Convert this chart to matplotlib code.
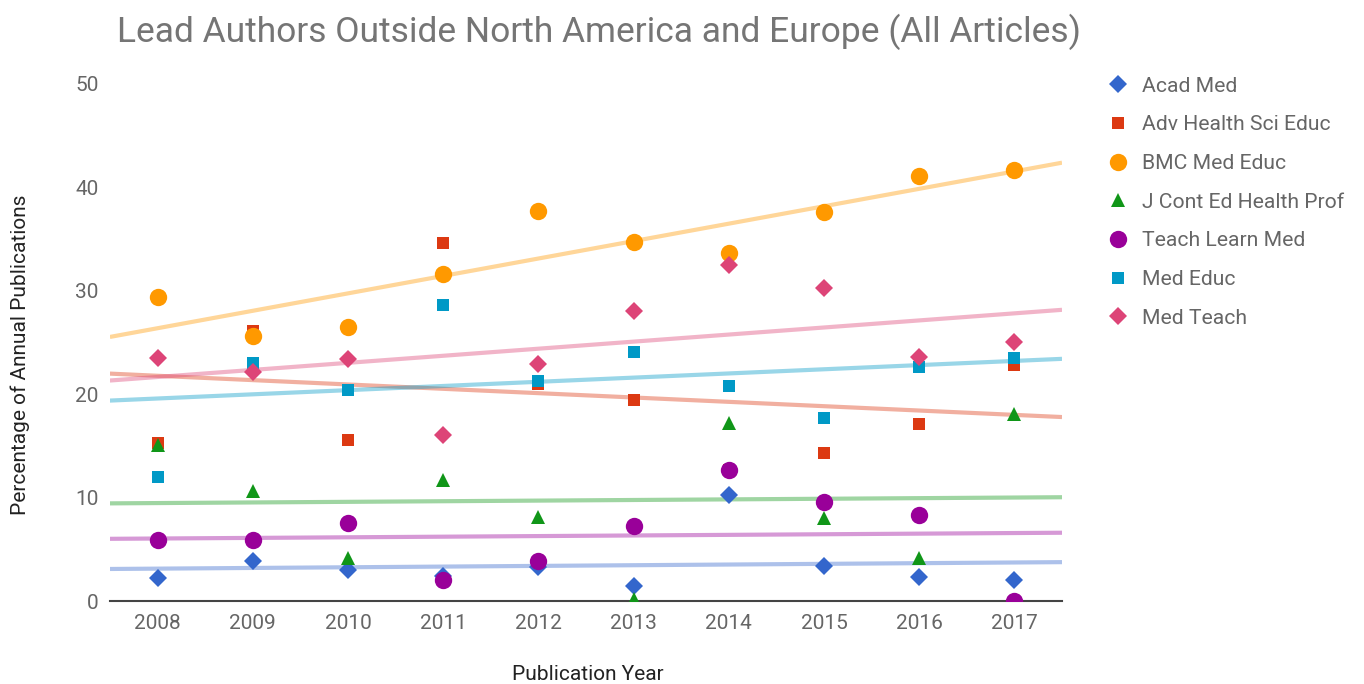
import matplotlib.pyplot as plt
import numpy as np

plt.rcParams['font.family'] = ['Roboto', 'DejaVu Sans']

years = [2008, 2009, 2010, 2011, 2012, 2013, 2014, 2015, 2016, 2017]

acad_med = [2.2, 3.9, 3.0, 2.4, 3.3, 1.5, 10.3, 3.4, 2.3, 2.0]
adv_health = [15.3, 26.1, 15.6, 34.6, 21.0, 19.4, 12.7, 14.3, 17.1, 22.8]
bmc_med = [29.4, 25.6, 26.5, 31.6, 37.7, 34.7, 33.7, 37.6, 41.1, 41.7]
j_cont = [15.1, 10.6, 4.2, 11.7, 8.1, 0.2, 17.2, 8.0, 4.2, 18.1]
teach_learn = [5.9, 5.9, 7.5, 2.0, 3.9, 7.3, 12.7, 9.6, 8.3, 0.0]
med_educ = [12.0, 23.0, 20.4, 28.6, 21.3, 24.1, 20.8, 17.7, 22.6, 23.5]
med_teach = [23.5, 22.1, 23.4, 16.1, 22.9, 28.0, 32.5, 30.3, 23.6, 25.0]

names = ['Acad Med', 'Adv Health Sci Educ', 'BMC Med Educ', 'J Cont Ed Health Prof',
         'Teach Learn Med', 'Med Educ', 'Med Teach']
series = [acad_med, adv_health, bmc_med, j_cont, teach_learn, med_educ, med_teach]
colors = ['#3366cc', '#dc3912', '#ff9900', '#109618', '#990099', '#0099c6', '#dd4477']
markers = ['D', 's', 'o', '^', 'o', 's', 'D']
msizes = [9.5, 9, 12.5, 10.5, 12.5, 9, 9.5]

fig = plt.figure(figsize=(13.64, 6.84), dpi=100)
ax = fig.add_axes([0.0806, 0.1213, 0.698, 0.756])

x = np.array(years, dtype=float)
xl = np.array([2007.5, 2017.5])
for vals, c in zip(series, colors):
    k, b = np.polyfit(x, vals, 1)
    ax.plot(xl, k * xl + b, color=c, alpha=0.4, lw=3, zorder=1, solid_capstyle='butt')

handles = []
for vals, name, c, m, ms in zip(series, names, colors, markers, msizes):
    h, = ax.plot(years, vals, linestyle='none', marker=m, ms=ms, color=c,
                 markeredgewidth=0, label=name, zorder=3)
    handles.append(h)

ax.set_xlim(2007.5, 2017.5)
ax.set_ylim(0, 50)
ax.set_xticks(years)
ax.set_yticks([0, 10, 20, 30, 40, 50])
for s in ['top', 'right', 'left']:
    ax.spines[s].set_visible(False)
ax.spines['bottom'].set_color('#444444')
ax.spines['bottom'].set_linewidth(1.5)
ax.tick_params(length=0, labelsize=15, colors='#666666', pad=9)
ax.tick_params(axis='y', pad=8)

fig.text(588 / 1364, 1 - 675 / 684, 'Publication Year', fontsize=15, color='#222222',
         ha='center', va='center')
fig.text(20 / 1364, 1 - 355 / 684, 'Percentage of Annual Publications', fontsize=15,
         color='#222222', ha='center', va='center', rotation=90)

fig.text(0.0858, 0.953, 'Lead Authors Outside North America and Europe (All Articles)',
         fontsize=25.5, color='#757575', ha='left', va='center')

leg = fig.legend(handles=handles, loc='upper left', bbox_to_anchor=(0.806, 0.9),
                 frameon=False, fontsize=15.2, labelspacing=0.93, handlelength=1.0,
                 handletextpad=0.6, labelcolor='#666666', borderaxespad=0)

fig.savefig('out.png', dpi=100)
